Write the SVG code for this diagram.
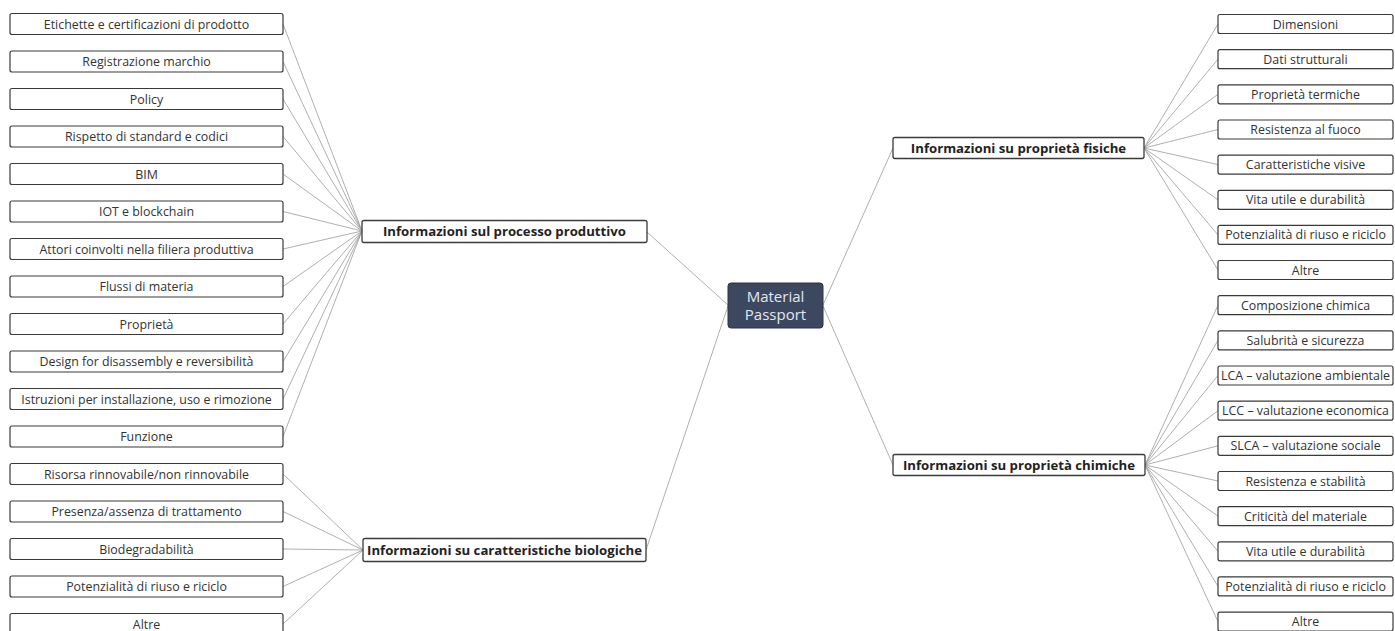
<svg xmlns="http://www.w3.org/2000/svg" width="1395" height="631" viewBox="0 0 1395 631">
<style>
.bg{fill:#ffffff}
.leaf{fill:#ffffff;stroke:#3a3a3a;stroke-width:1.2}
.hub{fill:#ffffff;stroke:#3a3a3a;stroke-width:1.3}
.root{fill:#3c4760;stroke:#2b3346;stroke-width:1}
.lt{font-family:"Open Sans","Liberation Sans",sans-serif;font-size:12.4px;fill:#333;text-anchor:middle}
.ht{font-family:"Open Sans","Liberation Sans",sans-serif;font-size:13.2px;font-weight:bold;fill:#222;text-anchor:middle}
.rt{font-family:"Open Sans","Liberation Sans",sans-serif;font-size:15px;fill:#e4e8f0;text-anchor:middle}
.c line{stroke:#9a9a9a;stroke-width:0.8;fill:none}
</style>
<rect class="bg" x="0" y="0" width="1395" height="631"/>
<g id="connectors" class="c">
<line x1="647" y1="232" x2="728" y2="305"/>
<line x1="646" y1="550" x2="728" y2="306"/>
<line x1="823" y1="305" x2="893" y2="148"/>
<line x1="823" y1="306" x2="893" y2="465"/>
<line x1="283" y1="24" x2="362" y2="231"/>
<line x1="283" y1="61.5" x2="362" y2="231"/>
<line x1="283" y1="99" x2="362" y2="231"/>
<line x1="283" y1="136.5" x2="362" y2="231"/>
<line x1="283" y1="174" x2="362" y2="231"/>
<line x1="283" y1="211.5" x2="362" y2="231"/>
<line x1="283" y1="249" x2="362" y2="231"/>
<line x1="283" y1="286.5" x2="362" y2="231"/>
<line x1="283" y1="324" x2="362" y2="231"/>
<line x1="283" y1="361.5" x2="362" y2="231"/>
<line x1="283" y1="399" x2="362" y2="231"/>
<line x1="283" y1="436.5" x2="362" y2="231"/>
<line x1="283" y1="474" x2="363" y2="550"/>
<line x1="283" y1="511.5" x2="363" y2="550"/>
<line x1="283" y1="549" x2="363" y2="550"/>
<line x1="283" y1="586.5" x2="363" y2="550"/>
<line x1="283" y1="624" x2="363" y2="550"/>
<line x1="1144" y1="148" x2="1218" y2="24"/>
<line x1="1144" y1="148" x2="1218" y2="59.2"/>
<line x1="1144" y1="148" x2="1218" y2="94.3"/>
<line x1="1144" y1="148" x2="1218" y2="129.5"/>
<line x1="1144" y1="148" x2="1218" y2="164.6"/>
<line x1="1144" y1="148" x2="1218" y2="199.8"/>
<line x1="1144" y1="148" x2="1218" y2="234.9"/>
<line x1="1144" y1="148" x2="1218" y2="270"/>
<line x1="1145" y1="465" x2="1218" y2="305.2"/>
<line x1="1145" y1="465" x2="1218" y2="340.4"/>
<line x1="1145" y1="465" x2="1218" y2="375.5"/>
<line x1="1145" y1="465" x2="1218" y2="410.7"/>
<line x1="1145" y1="465" x2="1218" y2="445.8"/>
<line x1="1145" y1="465" x2="1218" y2="481"/>
<line x1="1145" y1="465" x2="1218" y2="516.1"/>
<line x1="1145" y1="465" x2="1218" y2="551.3"/>
<line x1="1145" y1="465" x2="1218" y2="586.4"/>
<line x1="1145" y1="465" x2="1218" y2="621.6"/>
</g>
<g id="root"><rect class="root" x="728" y="283" width="95" height="45" rx="3"/><text class="rt" x="775.5" y="302">Material</text><text class="rt" x="775.5" y="320">Passport</text></g>
<g id="hub-processo"><rect class="hub" x="362" y="220.5" width="285" height="22" rx="2"/><text class="ht" x="504.5" y="236">Informazioni sul processo produttivo</text></g>
<g id="hub-biologiche"><rect class="hub" x="363" y="538.5" width="283" height="23" rx="2"/><text class="ht" x="504.5" y="554.5">Informazioni su caratteristiche biologiche</text></g>
<g id="hub-fisiche"><rect class="hub" x="893" y="137.5" width="251" height="21" rx="2"/><text class="ht" x="1018.5" y="152.5">Informazioni su proprietà fisiche</text></g>
<g id="hub-chimiche"><rect class="hub" x="893" y="454.5" width="252" height="21" rx="2"/><text class="ht" x="1019" y="469.5">Informazioni su proprietà chimiche</text></g>
<g id="l0"><rect class="leaf" x="10" y="13.5" width="273" height="21" rx="2"/><text class="lt" x="146.5" y="28.5">Etichette e certificazioni di prodotto</text></g>
<g id="l1"><rect class="leaf" x="10" y="51" width="273" height="21" rx="2"/><text class="lt" x="146.5" y="66">Registrazione marchio</text></g>
<g id="l2"><rect class="leaf" x="10" y="88.5" width="273" height="21" rx="2"/><text class="lt" x="146.5" y="103.5">Policy</text></g>
<g id="l3"><rect class="leaf" x="10" y="126" width="273" height="21" rx="2"/><text class="lt" x="146.5" y="141">Rispetto di standard e codici</text></g>
<g id="l4"><rect class="leaf" x="10" y="163.5" width="273" height="21" rx="2"/><text class="lt" x="146.5" y="178.5">BIM</text></g>
<g id="l5"><rect class="leaf" x="10" y="201" width="273" height="21" rx="2"/><text class="lt" x="146.5" y="216">IOT e blockchain</text></g>
<g id="l6"><rect class="leaf" x="10" y="238.5" width="273" height="21" rx="2"/><text class="lt" x="146.5" y="253.5">Attori coinvolti nella filiera produttiva</text></g>
<g id="l7"><rect class="leaf" x="10" y="276" width="273" height="21" rx="2"/><text class="lt" x="146.5" y="291">Flussi di materia</text></g>
<g id="l8"><rect class="leaf" x="10" y="313.5" width="273" height="21" rx="2"/><text class="lt" x="146.5" y="328.5">Proprietà</text></g>
<g id="l9"><rect class="leaf" x="10" y="351" width="273" height="21" rx="2"/><text class="lt" x="146.5" y="366">Design for disassembly e reversibilità</text></g>
<g id="l10"><rect class="leaf" x="10" y="388.5" width="273" height="21" rx="2"/><text class="lt" x="146.5" y="403.5">Istruzioni per installazione, uso e rimozione</text></g>
<g id="l11"><rect class="leaf" x="10" y="426" width="273" height="21" rx="2"/><text class="lt" x="146.5" y="441">Funzione</text></g>
<g id="l12"><rect class="leaf" x="10" y="463.5" width="273" height="21" rx="2"/><text class="lt" x="146.5" y="478.5">Risorsa rinnovabile/non rinnovabile</text></g>
<g id="l13"><rect class="leaf" x="10" y="501" width="273" height="21" rx="2"/><text class="lt" x="146.5" y="516">Presenza/assenza di trattamento</text></g>
<g id="l14"><rect class="leaf" x="10" y="538.5" width="273" height="21" rx="2"/><text class="lt" x="146.5" y="553.5">Biodegradabilità</text></g>
<g id="l15"><rect class="leaf" x="10" y="576" width="273" height="21" rx="2"/><text class="lt" x="146.5" y="591">Potenzialità di riuso e riciclo</text></g>
<g id="l16"><rect class="leaf" x="10" y="613.5" width="273" height="21" rx="2"/><text class="lt" x="146.5" y="628.5">Altre</text></g>
<g id="r0"><rect class="leaf" x="1218" y="14.5" width="175" height="19" rx="2"/><text class="lt" x="1305.5" y="28.5">Dimensioni</text></g>
<g id="r1"><rect class="leaf" x="1218" y="49.7" width="175" height="19" rx="2"/><text class="lt" x="1305.5" y="63.7">Dati strutturali</text></g>
<g id="r2"><rect class="leaf" x="1218" y="84.8" width="175" height="19" rx="2"/><text class="lt" x="1305.5" y="98.8">Proprietà termiche</text></g>
<g id="r3"><rect class="leaf" x="1218" y="120" width="175" height="19" rx="2"/><text class="lt" x="1305.5" y="134">Resistenza al fuoco</text></g>
<g id="r4"><rect class="leaf" x="1218" y="155.1" width="175" height="19" rx="2"/><text class="lt" x="1305.5" y="169.1">Caratteristiche visive</text></g>
<g id="r5"><rect class="leaf" x="1218" y="190.3" width="175" height="19" rx="2"/><text class="lt" x="1305.5" y="204.3">Vita utile e durabilità</text></g>
<g id="r6"><rect class="leaf" x="1218" y="225.4" width="175" height="19" rx="2"/><text class="lt" x="1305.5" y="239.4">Potenzialità di riuso e riciclo</text></g>
<g id="r7"><rect class="leaf" x="1218" y="260.5" width="175" height="19" rx="2"/><text class="lt" x="1305.5" y="274.5">Altre</text></g>
<g id="r8"><rect class="leaf" x="1218" y="295.7" width="175" height="19" rx="2"/><text class="lt" x="1305.5" y="309.7">Composizione chimica</text></g>
<g id="r9"><rect class="leaf" x="1218" y="330.9" width="175" height="19" rx="2"/><text class="lt" x="1305.5" y="344.9">Salubrità e sicurezza</text></g>
<g id="r10"><rect class="leaf" x="1218" y="366" width="175" height="19" rx="2"/><text class="lt" x="1305.5" y="380">LCA – valutazione ambientale</text></g>
<g id="r11"><rect class="leaf" x="1218" y="401.2" width="175" height="19" rx="2"/><text class="lt" x="1305.5" y="415.2">LCC – valutazione economica</text></g>
<g id="r12"><rect class="leaf" x="1218" y="436.3" width="175" height="19" rx="2"/><text class="lt" x="1305.5" y="450.3">SLCA – valutazione sociale</text></g>
<g id="r13"><rect class="leaf" x="1218" y="471.5" width="175" height="19" rx="2"/><text class="lt" x="1305.5" y="485.5">Resistenza e stabilità</text></g>
<g id="r14"><rect class="leaf" x="1218" y="506.6" width="175" height="19" rx="2"/><text class="lt" x="1305.5" y="520.6">Criticità del materiale</text></g>
<g id="r15"><rect class="leaf" x="1218" y="541.8" width="175" height="19" rx="2"/><text class="lt" x="1305.5" y="555.8">Vita utile e durabilità</text></g>
<g id="r16"><rect class="leaf" x="1218" y="576.9" width="175" height="19" rx="2"/><text class="lt" x="1305.5" y="590.9">Potenzialità di riuso e riciclo</text></g>
<g id="r17"><rect class="leaf" x="1218" y="612.1" width="175" height="19" rx="2"/><text class="lt" x="1305.5" y="626.1">Altre</text></g>
</svg>
